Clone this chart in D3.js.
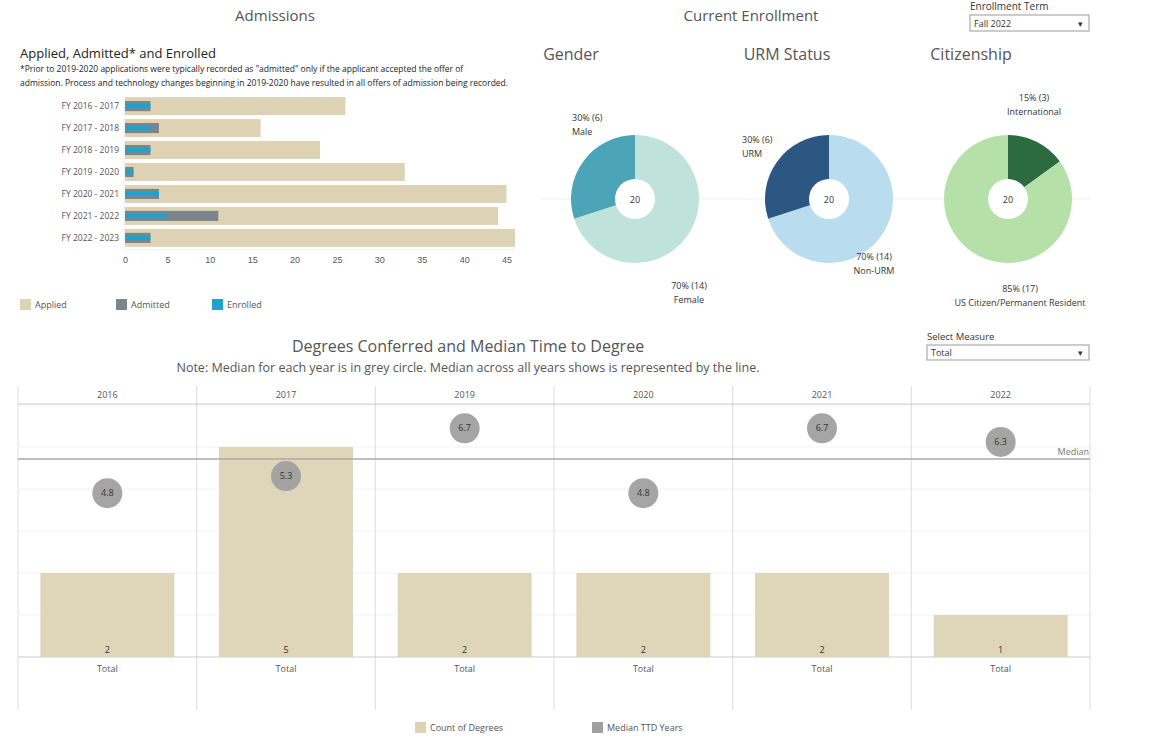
<!DOCTYPE html>
<html><head><meta charset="utf-8">
<script src="https://cdn.jsdelivr.net/npm/d3@7"></script>
<style>body{margin:0;background:#fff;font-family:"Open Sans",Lato,sans-serif}</style>
</head><body><svg id="c" width="1173" height="740"></svg>
<script>
// admissions
const years = ['FY 2016 - 2017','FY 2017 - 2018','FY 2018 - 2019','FY 2019 - 2020','FY 2020 - 2021','FY 2021 - 2022','FY 2022 - 2023'];
const applied = [26,16,23,33,45,44,46];
const admitted = [3,4,3,1,4,11,3];
const enrolled = [3,3,3,1,4,5,3];
const admTicks = [0,5,10,15,20,25,30,35,40,45];

// enrollment pies
const genderLabels = ['Female','Male'];
const genderValues = [14,6];
const urmLabels = ['Non-URM','URM'];
const urmValues = [14,6];
const citLabels = ['International','US Citizen/Permanent Resident'];
const citValues = [3,17];

// degrees
const degYears = ['2016','2017','2019','2020','2021','2022'];
const degCounts = [2,5,2,2,2,1];
const medianTTD = [4.8,5.3,6.7,4.8,6.7,6.3];
const overallMedian = 5.8;

const svg = d3.select('#c');
const grey = '#555';
const txt = (x,y,s,size,anchor,fill)=>svg.append('text').attr('x',x).attr('y',y).text(s)
  .attr('font-size',size).attr('text-anchor',anchor||'start').attr('fill',fill||grey);

txt(275,21,'Admissions',15,'middle');
txt(751,21,'Current Enrollment',15,'middle');
txt(970,10,'Enrollment Term',10,'start','#333');
svg.append('rect').attr('x',970).attr('y',15).attr('width',119).attr('height',16).attr('fill','#fff').attr('stroke','#999');
txt(974,27,'Fall 2022',9,'start','#333');
txt(1080,27,'▾',9,'middle','#333');

txt(20,58,'Applied, Admitted* and Enrolled',13,'start','#222');
txt(20,72,'*Prior to 2019-2020 applications were typically recorded as "admitted" only if the applicant accepted the offer of',8.5,'start','#222');
txt(20,86,'admission. Process and technology changes beginning in 2019-2020 have resulted in all offers of admission being recorded.',8.5,'start','#222');

// horizontal bar chart
const x = d3.scaleLinear().domain([0,46]).range([125,515]);
const y = d3.scaleBand().domain(years).range([96,248]).paddingInner(0.18).paddingOuter(0.05);
const g = svg.append('g');
g.selectAll('.ap').data(years).join('rect').attr('x',x(0)).attr('y',d=>y(d))
  .attr('width',(d,i)=>x(applied[i])-x(0)).attr('height',y.bandwidth()).attr('fill','#ddd3b4');
g.selectAll('.ad').data(years).join('rect').attr('x',x(0)).attr('y',d=>y(d)+y.bandwidth()*0.22)
  .attr('width',(d,i)=>x(admitted[i])-x(0)).attr('height',y.bandwidth()*0.56).attr('fill','#7b858c');
g.selectAll('.en').data(years).join('rect').attr('x',x(0)).attr('y',d=>y(d)+y.bandwidth()*0.38)
  .attr('width',(d,i)=>x(enrolled[i])-x(0)).attr('height',y.bandwidth()*0.24).attr('fill','#1ea3cc');
g.selectAll('.yl').data(years).join('text').attr('x',119).attr('y',d=>y(d)+y.bandwidth()/2+3)
  .attr('text-anchor','end').attr('font-size',8.5).attr('fill',grey).text(d=>d);
const ax = svg.append('g').attr('transform','translate(0,249)')
  .call(d3.axisBottom(x).tickValues(admTicks).tickSize(0).tickPadding(8));
ax.select('.domain').attr('stroke','#eee');
ax.selectAll('text').attr('font-size',9).attr('fill',grey).attr('font-family','inherit');
svg.append('line').attr('x1',124).attr('x2',124).attr('y1',96).attr('y2',249).attr('stroke','#eee');

[['Applied','#ddd3b4',20],['Admitted','#7b858c',116],['Enrolled','#1ea3cc',212]].forEach(([n,c,lx])=>{
  svg.append('rect').attr('x',lx).attr('y',299).attr('width',11).attr('height',11).attr('fill',c);
  txt(lx+15,308,n,9);
});

// pies
svg.append('line').attr('x1',540).attr('x2',1090).attr('y1',199).attr('y2',199).attr('stroke','#f0f0f0');
const pies = [
  {title:'Gender',tx:571,cx:635,labels:genderLabels,values:genderValues,colors:['#bfe3da','#4ba4b7'],
   ann:[[689,289,'middle'],[572,121,'start']]},
  {title:'URM Status',tx:787,cx:829,labels:urmLabels,values:urmValues,colors:['#badcef','#2b5782'],
   ann:[[874,260,'middle'],[742,143,'start']]},
  {title:'Citizenship',tx:971,cx:1008,labels:citLabels,values:citValues,colors:['#2b6b3f','#b5e0a8'],
   ann:[[1034,101,'middle'],[1020,292,'middle']]}
];
const pie = d3.pie().sort(null);
const arc = d3.arc().innerRadius(0).outerRadius(64);
pies.forEach(p=>{
  txt(p.tx,60,p.title,16,'middle');
  const total = d3.sum(p.values);
  const pg = svg.append('g').attr('transform',`translate(${p.cx},199)`);
  pg.selectAll('path').data(pie(p.values)).join('path').attr('d',arc).attr('fill',(d,i)=>p.colors[i]);
  pg.append('circle').attr('r',20).attr('fill','#fff');
  pg.append('text').attr('y',4).attr('text-anchor','middle').attr('font-size',9).attr('fill','#333').text(total);
  p.values.forEach((v,i)=>{
    const [ax_,ay,an]=p.ann[i];
    const pct = Math.round(v/total*100);
    txt(ax_,ay,`${pct}% (${v})`,9,an,'#333');
    txt(ax_,ay+14,p.labels[i],9,an,'#333');
  });
});

// degrees conferred
txt(468,352,'Degrees Conferred and Median Time to Degree',16,'middle');
txt(468,372,'Note: Median for each year is in grey circle.  Median across all years shows is represented by the line.',12.5,'middle');
txt(927,340,'Select Measure',9.5,'start','#333');
svg.append('rect').attr('x',927).attr('y',345).attr('width',162).attr('height',15).attr('fill','#fff').attr('stroke','#999');
txt(931,356,'Total',9,'start','#333');
txt(1080,356,'▾',9,'middle','#333');

const xb = d3.scaleBand().domain(degYears).range([18,1090]);
const yc = d3.scaleLinear().domain([0,6]).range([657,405]);
const ym = d3.scaleLinear().domain([0,7.5]).range([657,401]);
const bg = svg.append('g');
bg.selectAll('.gl').data(d3.range(1,7)).join('line').attr('x1',18).attr('x2',1090)
  .attr('y1',d=>yc(d)).attr('y2',d=>yc(d)).attr('stroke','#f2f2f2');
bg.selectAll('.vl').data(degYears).join('line').attr('x1',d=>xb(d)).attr('x2',d=>xb(d))
  .attr('y1',386).attr('y2',710).attr('stroke','#ddd');
bg.append('line').attr('x1',1090).attr('x2',1090).attr('y1',386).attr('y2',710).attr('stroke','#ddd');
bg.append('line').attr('x1',18).attr('x2',1090).attr('y1',404).attr('y2',404).attr('stroke','#ccc');
bg.append('line').attr('x1',18).attr('x2',1090).attr('y1',657).attr('y2',657).attr('stroke','#ccc');
const bw = xb.bandwidth()*0.75;
bg.selectAll('.db').data(degYears).join('rect').attr('x',d=>xb(d)+(xb.bandwidth()-bw)/2)
  .attr('y',(d,i)=>yc(degCounts[i])).attr('width',bw).attr('height',(d,i)=>yc(0)-yc(degCounts[i]))
  .attr('fill','#ddd3b4').attr('opacity',0.95);
bg.selectAll('.dl').data(degYears).join('text').attr('x',d=>xb(d)+xb.bandwidth()/2).attr('y',653)
  .attr('text-anchor','middle').attr('font-size',9).attr('fill','#333').text((d,i)=>degCounts[i]);
bg.selectAll('.hd').data(degYears).join('text').attr('x',d=>xb(d)+xb.bandwidth()/2).attr('y',398)
  .attr('text-anchor','middle').attr('font-size',9).attr('fill',grey).text(d=>d);
bg.selectAll('.ft').data(degYears).join('text').attr('x',d=>xb(d)+xb.bandwidth()/2).attr('y',672)
  .attr('text-anchor','middle').attr('font-size',9).attr('fill',grey).text('Total');
bg.append('line').attr('x1',18).attr('x2',1090).attr('y1',ym(overallMedian)).attr('y2',ym(overallMedian))
  .attr('stroke','#aaa').attr('stroke-width',1.5);
txt(1089,ym(overallMedian)-4,'Median',9,'end','#777');
bg.selectAll('.mc').data(degYears).join('circle').attr('cx',d=>xb(d)+xb.bandwidth()/2)
  .attr('cy',(d,i)=>ym(medianTTD[i])).attr('r',15).attr('fill','#a0a0a0').attr('opacity',0.95);
bg.selectAll('.mt').data(degYears).join('text').attr('x',d=>xb(d)+xb.bandwidth()/2)
  .attr('y',(d,i)=>ym(medianTTD[i])+3).attr('text-anchor','middle').attr('font-size',9).attr('fill','#333')
  .text((d,i)=>medianTTD[i]);

[['Count of Degrees','#ddd3b4',415],['Median TTD Years','#a0a0a0',592]].forEach(([n,c,lx])=>{
  svg.append('rect').attr('x',lx).attr('y',722).attr('width',11).attr('height',11).attr('fill',c);
  txt(lx+15,731,n,9);
});
</script></body></html>
